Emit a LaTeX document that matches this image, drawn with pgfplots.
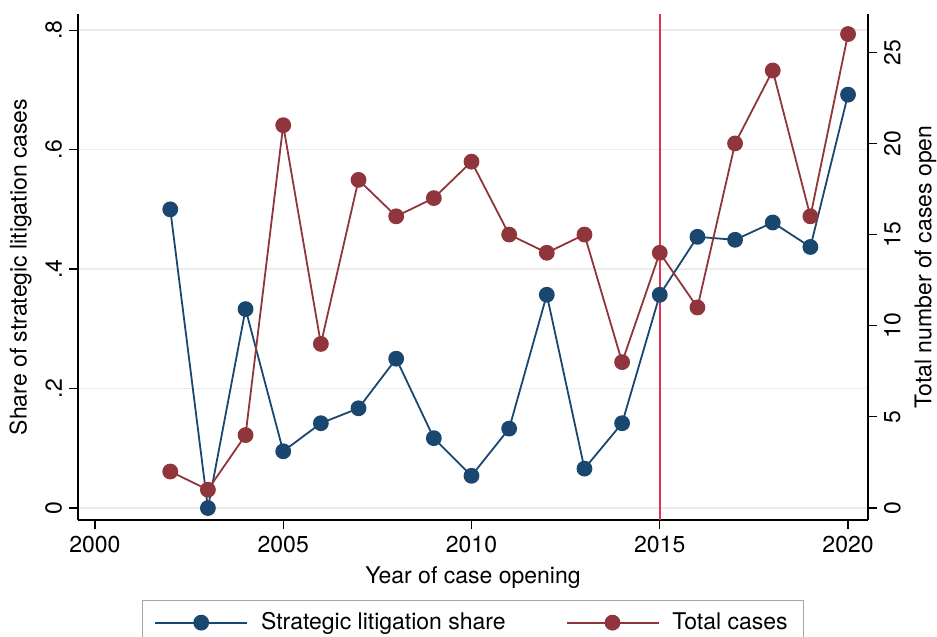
\documentclass[border=0pt]{standalone}
\usepackage{pgfplots}
\pgfplotsset{compat=1.18}
\usepackage{fontspec}
\setmainfont{TeX Gyre Heros}
\definecolor{sblue}{RGB}{26,71,111}
\definecolor{sred}{RGB}{144,53,59}
\definecolor{vred}{RGB}{222,52,82}
\pgfplotstableread{
year share total
2002 0.500 2
2003 0.000 1
2004 0.333 4
2005 0.095 21
2006 0.142 9
2007 0.167 18
2008 0.250 16
2009 0.117 17
2010 0.054 19
2011 0.133 15
2012 0.357 14
2013 0.066 15
2014 0.142 8
2015 0.357 14
2016 0.454 11
2017 0.449 20
2018 0.478 24
2019 0.437 16
2020 0.692 26
}\datatable
\begin{document}
\begin{tikzpicture}[font=\fontsize{11.5}{13.5}\selectfont]
\useasboundingbox (-39pt,-58.5pt) rectangle (429.5pt,260pt);
\pgfplotsset{
  common/.style={
    width=395pt, height=253pt, scale only axis,
    xmin=1999.55, xmax=2020.53,
    /pgf/number format/assume math mode=true,
    tick align=outside, major tick length=4.5pt,
    tick style={black, line width=0.6pt},
    axis line style={black, line width=0.7pt},
    tick label style={font=\fontsize{11.5}{13.5}\selectfont},
    label style={font=\fontsize{11.5}{13.5}\selectfont},
  }
}
\begin{axis}[common,
  ymin=-0.02, ymax=0.827,
  axis y line*=left, axis x line*=bottom,
  xtick={2000,2005,2010,2015,2020},
  xticklabel style={/pgf/number format/1000 sep=},
  ytick={0,0.2,0.4,0.6,0.8},
  yticklabels={0,.2,.4,.6,.8},
  yticklabel style={rotate=90, anchor=south},
  ymajorgrids, grid style={gray!15, line width=0.7pt},
  xlabel={Year of case opening},
  ylabel={Share of strategic litigation cases},
]
\addplot[vred, line width=0.9pt, forget plot] coordinates {(2015,-0.02) (2015,0.827)};
\addplot[sblue, line width=0.9pt, mark=*, mark size=3.5pt, mark options={fill=sblue, draw=sblue}] table[x=year, y=share] {\datatable};
\end{axis}
\begin{axis}[common,
  ymin=-0.66, ymax=27.1,
  axis y line*=right, axis x line=none,
  ytick={0,5,10,15,20,25},
  yticklabel style={rotate=90, anchor=north},
  ylabel={Total number of cases open},
  legend columns=2,
  legend style={at={(0.5,-0.158)}, anchor=north, draw=gray!70, line width=0.6pt,
    font=\fontsize{11.5}{13.5}\selectfont, inner xsep=6pt, inner ysep=4pt,
    /tikz/every even column/.append style={column sep=28pt},
    /tikz/every odd column/.append style={column sep=4.5pt}},
  legend image code/.code={\draw[mark repeat=2, mark phase=2, #1] plot coordinates {(0pt,0pt) (23pt,0pt) (46pt,0pt)};},
]
\addlegendimage{sblue, line width=0.9pt, mark=*, mark size=3.5pt, mark options={fill=sblue, draw=sblue}}
\addlegendentry{Strategic litigation share}
\addplot[sred, line width=0.9pt, mark=*, mark size=3.5pt, mark options={fill=sred, draw=sred}] table[x=year, y=total] {\datatable};
\addlegendentry{Total cases}
\end{axis}
\end{tikzpicture}
\end{document}
